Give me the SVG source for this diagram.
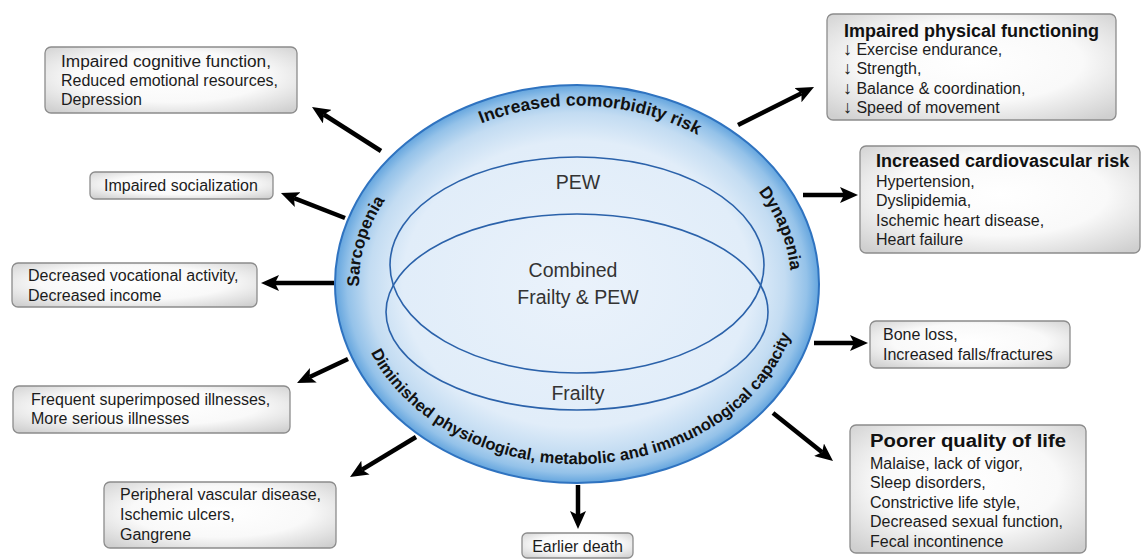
<svg xmlns="http://www.w3.org/2000/svg" xmlns:xlink="http://www.w3.org/1999/xlink" width="1145" height="559" viewBox="0 0 1145 559">
<style>
.box{fill:url(#boxg);stroke:#8c8c8c;stroke-width:1.3}
.t{font-family:"Liberation Sans",Arial,sans-serif;font-size:16px;fill:#1c1c1c}
.h{font-family:"Liberation Sans",Arial,sans-serif;font-size:18px;font-weight:bold;fill:#111}
.ring{font-family:"Liberation Sans",Arial,sans-serif;font-weight:bold;fill:#111}
.c{font-family:"Liberation Sans",Arial,sans-serif;font-size:19.5px;fill:#333;text-anchor:middle}
.inner{fill:none;stroke:#2b62aa;stroke-width:1.6}
.arr{stroke:#000;stroke-width:4.5;fill:none;marker-end:url(#ah)}
.dn{font-size:18px}
</style>
<defs>
<radialGradient id="ringg" cx="50%" cy="50%" r="50%">
<stop offset="0" stop-color="#eaf2fb"/>
<stop offset="0.72" stop-color="#e1edf9"/>
<stop offset="0.86" stop-color="#c3dcf2"/>
<stop offset="0.95" stop-color="#94c2e9"/>
<stop offset="1" stop-color="#64a5de"/>
</radialGradient>
<radialGradient id="boxg" cx="50%" cy="45%" r="70%">
<stop offset="0" stop-color="#ffffff"/>
<stop offset="0.55" stop-color="#f9f9f9"/>
<stop offset="1" stop-color="#cfcfcf"/>
</radialGradient>
<marker id="ah" viewBox="0 0 18 16" refX="4" refY="8" markerWidth="18" markerHeight="16" markerUnits="userSpaceOnUse" orient="auto">
<path d="M0,0 L18,8 L0,16 L4,8 z" fill="#000"/>
</marker>
<path id="pTop" d="M422.1,158.1 A218,177 0 0 1 751.9,176.9"/>
<path id="pLeft" d="M372.1,344.5 A218,177 0 0 1 425.6,156.7"/>
<path id="pRight" d="M720.2,154.7 A214,174 0 0 1 785.5,323.2"/>
<path id="pBot" d="M357.4,315.3 A223,180 0 0 0 799.5,296.6"/>
</defs>

<g id="connectors">
<line class="arr" x1="381" y1="151" x2="323.8" y2="114.5"/>
<line class="arr" x1="345" y1="218" x2="294" y2="198.1"/>
<line class="arr" x1="334" y1="283" x2="275" y2="283"/>
<line class="arr" x1="348" y1="359" x2="309.7" y2="377"/>
<line class="arr" x1="416" y1="437" x2="362" y2="469.7"/>
<line class="arr" x1="578" y1="485" x2="578" y2="515"/>
<line class="arr" x1="773" y1="413" x2="822.1" y2="452.3"/>
<line class="arr" x1="814" y1="343" x2="854" y2="343"/>
<line class="arr" x1="803" y1="195" x2="844" y2="195"/>
<line class="arr" x1="738" y1="125" x2="801.5" y2="93.3"/>
</g>

<g id="ring">
<ellipse cx="577" cy="284" rx="242" ry="199" fill="url(#ringg)" stroke="#2f73c0" stroke-width="2"/>
<text class="ring" font-size="17.5"><textPath xlink:href="#pTop" href="#pTop" startOffset="50%" text-anchor="middle">Increased comorbidity risk</textPath></text>
<text class="ring" font-size="17"><textPath xlink:href="#pLeft" href="#pLeft" startOffset="50%" text-anchor="middle">Sarcopenia</textPath></text>
<text class="ring" font-size="17"><textPath xlink:href="#pRight" href="#pRight" startOffset="50%" text-anchor="middle">Dynapenia</textPath></text>
<text class="ring" font-size="16.5"><textPath xlink:href="#pBot" href="#pBot" startOffset="50%" text-anchor="middle">Diminished physiological, metabolic and immunological capacity</textPath></text>
</g>

<g id="pew">
<ellipse class="inner" cx="577" cy="265" rx="187" ry="108"/>
<text class="c" x="578" y="189">PEW</text>
</g>
<g id="frailty">
<ellipse class="inner" cx="577" cy="312" rx="191" ry="98"/>
<text class="c" x="578" y="400">Frailty</text>
</g>
<g id="combined">
<text class="c" x="573" y="277">Combined</text>
<text class="c" x="578" y="304">Frailty &amp; PEW</text>
</g>

<g id="cognitive">
<rect class="box" x="45" y="47" width="252" height="66" rx="6"/>
<text class="t" x="61" y="67" textLength="210" lengthAdjust="spacingAndGlyphs">Impaired cognitive function,</text>
<text class="t" x="61" y="86">Reduced emotional resources,</text>
<text class="t" x="61" y="105">Depression</text>
</g>
<g id="social">
<rect class="box" x="90" y="172" width="183" height="27" rx="5"/>
<text class="t" x="104" y="191">Impaired socialization</text>
</g>
<g id="vocational">
<rect class="box" x="12" y="263" width="245" height="44" rx="6"/>
<text class="t" x="28" y="281">Decreased vocational activity,</text>
<text class="t" x="28" y="301">Decreased income</text>
</g>
<g id="illnesses">
<rect class="box" x="13" y="386" width="277" height="47" rx="6"/>
<text class="t" x="31" y="405">Frequent superimposed illnesses,</text>
<text class="t" x="31" y="424">More serious illnesses</text>
</g>
<g id="vascular">
<rect class="box" x="104" y="482" width="232" height="66" rx="6"/>
<text class="t" x="120" y="500">Peripheral vascular disease,</text>
<text class="t" x="120" y="520">Ischemic ulcers,</text>
<text class="t" x="120" y="540">Gangrene</text>
</g>
<g id="death">
<rect class="box" x="522" y="533" width="111" height="25" rx="5"/>
<text class="t" x="577.5" y="552" text-anchor="middle">Earlier death</text>
</g>
<g id="physical">
<rect class="box" x="827" y="14" width="289" height="106" rx="6"/>
<text class="h" x="844" y="37">Impaired physical functioning</text>
<text class="t" x="843" y="55"><tspan class="dn">↓</tspan> Exercise endurance,</text>
<text class="t" x="843" y="74"><tspan class="dn">↓</tspan> Strength,</text>
<text class="t" x="843" y="94"><tspan class="dn">↓</tspan> Balance &amp; coordination,</text>
<text class="t" x="843" y="113"><tspan class="dn">↓</tspan> Speed of movement</text>
</g>
<g id="cardio">
<rect class="box" x="860" y="146" width="280" height="107" rx="6"/>
<text class="h" x="876" y="167">Increased cardiovascular risk</text>
<text class="t" x="876" y="187">Hypertension,</text>
<text class="t" x="876" y="206">Dyslipidemia,</text>
<text class="t" x="876" y="226">Ischemic heart disease,</text>
<text class="t" x="876" y="245">Heart failure</text>
</g>
<g id="bone">
<rect class="box" x="870" y="321" width="200" height="47" rx="6"/>
<text class="t" x="883" y="340">Bone loss,</text>
<text class="t" x="883" y="360">Increased falls/fractures</text>
</g>
<g id="quality">
<rect class="box" x="850" y="425" width="236" height="128" rx="6"/>
<text class="h" x="870" y="447" textLength="196" lengthAdjust="spacingAndGlyphs">Poorer quality of life</text>
<text class="t" x="870" y="469">Malaise, lack of vigor,</text>
<text class="t" x="870" y="488">Sleep disorders,</text>
<text class="t" x="870" y="508">Constrictive life style,</text>
<text class="t" x="870" y="527">Decreased sexual function,</text>
<text class="t" x="870" y="547">Fecal incontinence</text>
</g>
</svg>
